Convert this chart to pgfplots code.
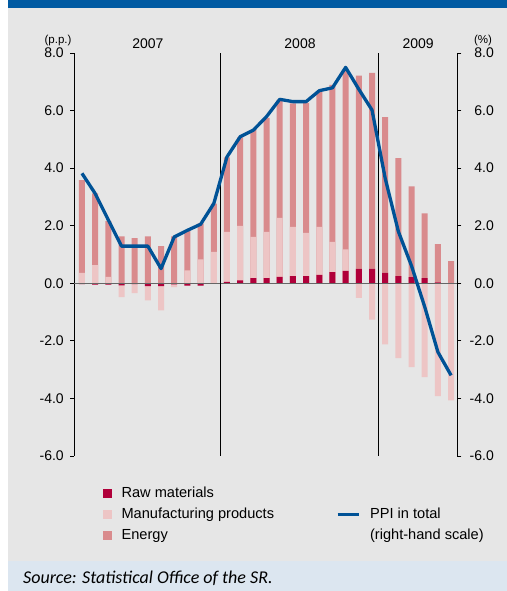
\documentclass[border=0pt]{standalone}
\usepackage{fontspec}
\setmainfont{Liberation Sans}
\newfontfamily\srcfont{Carlito}
\usepackage{pgfplots}
\usepackage{pgfplotstable}
\pgfplotsset{compat=1.18}
\definecolor{rawc}{RGB}{176,0,58}
\definecolor{manc}{RGB}{237,197,197}
\definecolor{enc}{RGB}{217,139,141}
\definecolor{ppic}{RGB}{0,82,150}
\definecolor{bggrey}{RGB}{230,230,230}
\definecolor{srcblue}{RGB}{220,230,240}
\definecolor{hdrblue}{RGB}{0,90,162}
\newcommand{\lf}{\fontsize{14bp}{17bp}\selectfont}
\newcommand{\lgf}{\fontsize{14.6bp}{17bp}\selectfont}
\newcommand{\smf}{\fontsize{11.5bp}{13bp}\selectfont}

\pgfplotstableread{
i raw man en ppi
0 -0.03 0.36 3.22 3.82
1 -0.05 0.63 2.49 3.12
2 -0.05 0.22 1.94 2.20
3 -0.07 -0.41 1.63 1.29
4 -0.03 -0.31 1.57 1.29
5 -0.10 -0.49 1.63 1.29
6 -0.10 -0.84 1.29 0.51
7 -0.04 -0.09 1.63 1.61
8 -0.08 0.45 1.39 1.84
9 -0.08 0.83 1.25 2.05
10 -0.02 1.09 1.68 2.77
11 0.05 1.74 2.58 4.39
12 0.10 1.89 3.08 5.09
13 0.18 1.43 3.71 5.32
14 0.18 1.61 3.96 5.79
15 0.22 2.05 4.10 6.39
16 0.25 1.71 4.29 6.31
17 0.25 1.50 4.52 6.31
18 0.29 1.67 4.70 6.69
19 0.39 1.05 5.45 6.79
20 0.43 0.75 6.21 7.50
21 0.50 -0.51 6.71 6.74
22 0.50 -1.26 6.81 6.02
23 0.36 -2.12 5.41 3.65
24 0.25 -2.60 4.10 1.80
25 0.21 -2.91 3.16 0.60
26 0.18 -3.26 2.25 -0.82
27 0.03 -3.92 1.33 -2.39
28 0.00 -4.07 0.77 -3.20
}\datatable

\pgfplotsset{
  baseax/.style={
    scale only axis, width=383bp, height=403bp,
    at={(74.3bp,135bp)}, anchor=south west,
    xmin=-0.58, xmax=28.47, ymin=-6, ymax=8,
    axis x line=none,
    ytick={-6,-4,...,8}, tick align=outside, major tick length=4bp,
    axis line style={black, line width=0.8bp},
    tick style={black, line width=0.8bp},
    /pgf/number format/fixed, /pgf/number format/fixed zerofill,
    /pgf/number format/precision=1, /pgf/number format/assume math mode=true,
    clip=false,
  },
  barsty/.style={ybar, bar width=6bp, bar shift=0pt, draw=none, forget plot},
}

\begin{document}
\begin{tikzpicture}
\fill[white] (0bp,0bp) rectangle (507bp,591bp);
\fill[bggrey] (8bp,30bp) rectangle (507bp,583bp);
\fill[hdrblue] (8bp,583bp) rectangle (507bp,591bp);
\fill[srcblue] (8bp,0bp) rectangle (507bp,30bp);
\node[anchor=west, inner sep=0pt, font=\srcfont\itshape\fontsize{18bp}{21bp}\selectfont] at (23bp,13bp) {Source: Statistical Office of the SR.};
\node[font=\smf, inner sep=0pt] at (58bp,550.5bp) {(p.p.)};
\node[font=\smf, inner sep=0pt] at (483bp,550.5bp) {(\%)};

\begin{axis}[baseax,
  axis y line*=left,
  yticklabel style={font=\lf, xshift=-3bp},
  legend columns=2,
  legend cell align=left,
  legend style={at={(axis description cs:0.067,-0.066)}, anchor=north west,
    draw=none, fill=none, font=\lgf, row sep=3.5bp,
    nodes={inner sep=2bp, text height=10.5bp, text depth=3bp},
    /tikz/every odd column/.append style={column sep=8bp},
    /tikz/every even column/.append style={column sep=60bp}},
]
\addplot[barsty, fill=enc] table[x=i, y expr={max(\thisrow{raw},0)+max(\thisrow{man},0)+\thisrow{en}}] {\datatable};
\addplot[barsty, fill=manc] table[x=i, y expr={max(\thisrow{raw},0)+max(\thisrow{man},0)}] {\datatable};
\addplot[barsty, fill=rawc] table[x=i, y expr={max(\thisrow{raw},0)}] {\datatable};
\addplot[barsty, fill=manc] table[x=i, y expr={min(\thisrow{raw},0)+min(\thisrow{man},0)}] {\datatable};
\addplot[barsty, fill=rawc] table[x=i, y expr={min(\thisrow{raw},0)}] {\datatable};

\addlegendimage{legend image code/.code={\fill[rawc] (0bp,-4bp) rectangle (8bp,4bp);}}
\addlegendentry{Raw materials}
\addlegendimage{empty legend}
\addlegendentry{}
\addlegendimage{legend image code/.code={\fill[manc] (0bp,-4bp) rectangle (8bp,4bp);}}
\addlegendentry{Manufacturing products}
\addlegendimage{legend image code/.code={\draw[ppic, line width=3bp] (0bp,0bp) -- (21bp,0bp);}}
\addlegendentry{PPI in total}
\addlegendimage{legend image code/.code={\fill[enc] (0bp,-4bp) rectangle (8bp,4bp);}}
\addlegendentry{Energy}
\addlegendimage{empty legend}
\addlegendentry{(right-hand scale)}

\draw[black!60, line width=1.3bp] (axis cs:-0.58,0) -- (axis cs:28.47,0);
\draw[black, line width=0.8bp] (axis cs:10.5,-6) -- (axis cs:10.5,8);
\draw[black, line width=0.8bp] (axis cs:22.5,-6) -- (axis cs:22.5,8);
\node[font=\lf, yshift=9.5bp] at (axis cs:5,8) {2007};
\node[font=\lf, yshift=9.5bp] at (axis cs:16.54,8) {2008};
\node[font=\lf, yshift=9.5bp] at (axis cs:25.5,8) {2009};
\end{axis}

\begin{axis}[baseax,
  axis y line*=right,
  yticklabel style={font=\lf, anchor=east, xshift=36bp},
]
\addplot[ppic, line width=3.3bp, line join=round, no markers] table[x=i, y=ppi] {\datatable};
\end{axis}
\end{tikzpicture}
\end{document}
